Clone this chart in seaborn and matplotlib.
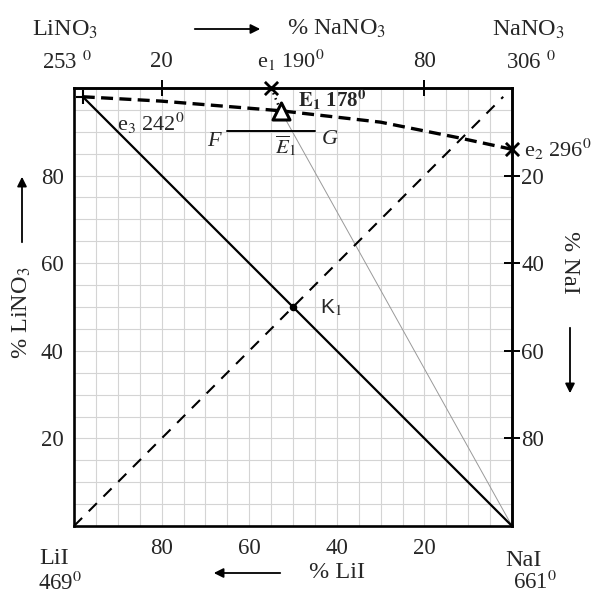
import numpy as np
import pandas as pd
import matplotlib
matplotlib.use("Agg")
import matplotlib.pyplot as plt
import seaborn as sns

# ---- data (composition in %: x = % NaNO3, y = % LiNO3) ----
curve_x = [2.0, 20.0, 47.2, 70.0, 88.0, 100.0]      # liquidus valley e3 - E1 - e2
curve_y = [98.0, 97.0, 94.8, 92.2, 88.6, 86.0]
diag_solid_x = [2.0, 100.0]                          # LiNO3 - NaI stable diagonal
diag_solid_y = [98.0, 0.0]
diag_dash_x = [0.0, 98.0]                            # LiI - NaNO3 diagonal
diag_dash_y = [0.0, 98.0]
e1_pt = (45.0, 100.0)
E1_pt = (47.2, 94.8)
e2_pt = (100.0, 86.0)
e3_pt = (2.0, 98.0)
K1_pt = (50.0, 50.0)
FG_x = [35.0, 55.0]
FG_y = [90.2, 90.2]
ray_x = [47.2, 100.0]                                # E1 -> NaI
ray_y = [94.8, 0.0]

left_ticks = [20, 40, 60, 80]        # % LiNO3
bottom_ticks = [80, 60, 40, 20]      # % LiI
top_ticks = [20, 80]                 # % NaNO3
right_ticks = [20, 40, 60, 80]       # % NaI

sns.set_theme(style="white")
plt.rcParams['font.family'] = ['Liberation Serif', 'DejaVu Serif']
plt.rcParams['mathtext.fontset'] = 'stix'

W, H = 593, 595
fig = plt.figure(figsize=(W / 100, H / 100), dpi=100)
ax = fig.add_axes([74 / W, (H - 526) / H, 438 / W, 438 / H])
ax.set_xlim(0, 100)
ax.set_ylim(0, 100)

# grid
for v in np.arange(5, 100, 5):
    ax.axvline(v, color='#d4d4d4', lw=0.8, zorder=0)
    ax.axhline(v, color='#d4d4d4', lw=0.8, zorder=0)

# lines
sns.lineplot(x=ray_x, y=ray_y, ax=ax, color='#999999', lw=0.7, sort=False, zorder=2)
sns.lineplot(x=diag_solid_x, y=diag_solid_y, ax=ax, color='black', lw=1.6, sort=False, zorder=3)
sns.lineplot(x=diag_dash_x, y=diag_dash_y, ax=ax, color='black', lw=1.5, sort=False,
             linestyle=(0, (5.5, 4.5)), zorder=3)
sns.lineplot(x=curve_x, y=curve_y, ax=ax, color='black', lw=2.4, sort=False,
             linestyle=(0, (3.6, 1.9)), zorder=4)
sns.lineplot(x=[e1_pt[0], E1_pt[0]], y=[e1_pt[1], E1_pt[1]], ax=ax, color='black', lw=1.8,
             sort=False, linestyle=(0, (0.6, 1.6)), zorder=4)
sns.lineplot(x=FG_x, y=FG_y, ax=ax, color='black', lw=1.4, sort=False, zorder=3)

# markers
sns.scatterplot(x=[e1_pt[0], e2_pt[0]], y=[e1_pt[1], e2_pt[1]], ax=ax, marker='x', s=90,
                color='black', linewidth=2.0, zorder=6, clip_on=False)
sns.scatterplot(x=[e3_pt[0]], y=[e3_pt[1]], ax=ax, marker='+', s=110,
                color='black', linewidth=1.5, zorder=6, clip_on=False)
sns.scatterplot(x=[E1_pt[0]], y=[E1_pt[1]], ax=ax, marker='^', s=150, facecolor='white',
                edgecolor='black', linewidth=2.2, zorder=7, clip_on=False)
sns.scatterplot(x=[K1_pt[0]], y=[K1_pt[1]], ax=ax, marker='o', s=30,
                color='black', linewidth=0, zorder=7)

# frame
for sp in ax.spines.values():
    sp.set_visible(True)
    sp.set_color('black')
    sp.set_linewidth(1.9)

tick_kw = dict(direction='inout', length=11, width=1.4, color='black', labelsize=16.5)
ax.set_xticks([100 - t for t in bottom_ticks])
ax.set_xticklabels([str(t) for t in bottom_ticks])
ax.set_yticks(left_ticks)
ax.set_yticklabels([str(t) for t in left_ticks])
ax.tick_params(axis='x', pad=3, **tick_kw)
ax.tick_params(axis='y', pad=2, **tick_kw)
ax.set_xlabel('')
ax.set_ylabel('')

sec_top = ax.secondary_xaxis('top')
sec_top.set_xticks(top_ticks)
sec_top.set_xticklabels([str(t) for t in top_ticks])
sec_top.tick_params(axis='x', pad=6, **tick_kw)
sec_top.spines['top'].set_linewidth(1.9)

sec_right = ax.secondary_yaxis('right', functions=(lambda y: 100 - y, lambda y: 100 - y))
sec_right.set_yticks(right_ticks)
sec_right.set_yticklabels([str(t) for t in right_ticks])
sec_right.tick_params(axis='y', pad=1, **tick_kw)
sec_right.spines['right'].set_linewidth(1.9)


def px(xp, yp):
    return ((xp - 74) / 4.38, (526 - yp) / 4.38)


def txt(xp, yp, s, ha='center', va='center', size=17.5, **kw):
    x, y = px(xp, yp)
    ax.text(x, y, s, ha=ha, va=va, fontsize=size, clip_on=False, **kw)


# corner labels
txt(65, 30, r'LiNO$_3$')
txt(67, 62, r'253 $^0$', size=16.5)
txt(528, 30, r'NaNO$_3$')
txt(531, 62, r'306 $^0$', size=16.5)
txt(54, 559, 'LiI')
txt(60, 583, r'469$^0$', size=16.5)
txt(523, 560, 'NaI')
txt(535, 582, r'661$^0$', size=16.5)

# axis titles with arrows
txt(337, 29, r'% NaNO$_3$')
ax.annotate('', xy=px(263, 29), xytext=px(192, 29), xycoords='data',
            arrowprops=dict(arrowstyle='-|>', color='black', lw=1.3, mutation_scale=14),
            annotation_clip=False)
txt(337, 572, '% LiI')
ax.annotate('', xy=px(211, 573), xytext=px(283, 573), xycoords='data',
            arrowprops=dict(arrowstyle='-|>', color='black', lw=1.3, mutation_scale=14),
            annotation_clip=False)
txt(22, 313, r'% LiNO$_3$', rotation=90)
ax.annotate('', xy=px(22, 174), xytext=px(22, 245), xycoords='data',
            arrowprops=dict(arrowstyle='-|>', color='black', lw=1.3, mutation_scale=14),
            annotation_clip=False)
txt(570, 262, '% NaI', rotation=-90)
ax.annotate('', xy=px(570, 396), xytext=px(570, 325), xycoords='data',
            arrowprops=dict(arrowstyle='-|>', color='black', lw=1.3, mutation_scale=14),
            annotation_clip=False)

# point labels
txt(257, 60, r'e$_1$ 190$^0$', ha='left', size=16)
txt(298, 100, r'$\mathbf{E_1}$ 178$^{\mathbf{0}}$', ha='left', size=15, fontweight='bold')
txt(117, 123, r'e$_3$ 242$^0$', ha='left', size=16)
txt(524, 149, r'e$_2$ 296$^0$', ha='left', size=16)
txt(214, 142, 'F', style='italic', size=16)
txt(330, 140, 'G', style='italic', size=16)
txt(285, 146, r'$\overline{E}_{\mathit{1}}$', size=15)
txt(320, 308, r'K$_1$', ha='left', size=15, family=['Liberation Sans', 'DejaVu Sans'])

fig.savefig('out.png', dpi=100)
